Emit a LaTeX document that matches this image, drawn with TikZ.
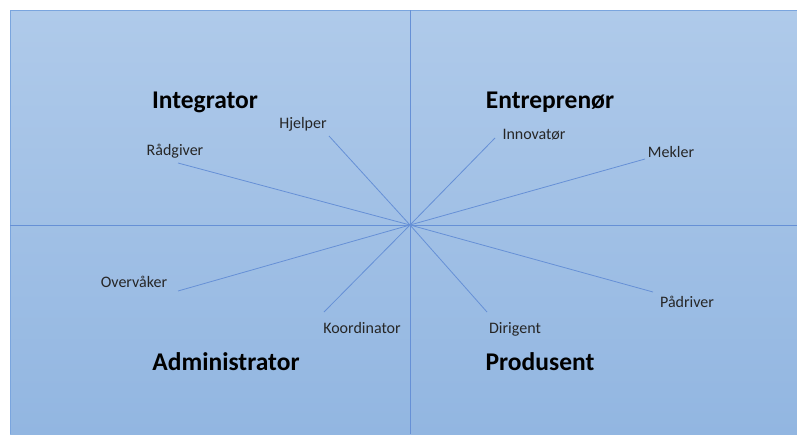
\documentclass[tikz,border=0pt]{standalone}
\usepackage{fontspec}
\setmainfont{Carlito}
\definecolor{bgtop}{HTML}{AFCAEA}
\definecolor{bgbottom}{HTML}{92B6E1}
\definecolor{axisline}{HTML}{6690D6}
\definecolor{rimline}{HTML}{7AA5DE}
\begin{document}
\begin{tikzpicture}[x=1pt,y=-1pt,
            role/.style={anchor=base, inner sep=0pt, text=black!85, font=\fontsize{16}{18}\selectfont},
            quadrant/.style={anchor=base, inner sep=0pt, text=black, font=\fontsize{25.5}{28}\selectfont\bfseries},
            axis/.style={draw=axisline, line width=1pt},
            spoke/.style={draw=axisline, line width=0.8pt}
    ]
        \useasboundingbox (0,0) rectangle (797,434);

        % Background panel
        \shade[top color=bgtop, bottom color=bgbottom] (10,10) rectangle (797,434);
        \draw[rimline, line width=1pt] (10,434) -- (10,10) -- (797,10);

        % Axes
        \coordinate (c) at (410,225);
        \coordinate (ax_top) at (410,10);
        \coordinate (ax_bot) at (410,434);
        \coordinate (ax_left) at (10,225);
        \coordinate (ax_right) at (797,225);
        \draw[axis] (ax_top) -- (ax_bot);
        \draw[axis] (ax_left) -- (ax_right);

        % Quadrants
        \node[quadrant] (integrator) at (205,108) {Integrator};
        \node[quadrant] (entreprenor) at (550,108) {Entreprenør};
        \node[quadrant] (administrator) at (226,370) {Administrator};
        \node[quadrant] (produsent) at (540,370) {Produsent};

        % Roles
        \node[role] (raadgiver) at (175,155) {Rådgiver};
        \node[role] (hjelper) at (303,128) {Hjelper};
        \node[role] (innovator) at (534,139) {Innovatør};
        \node[role] (mekler) at (671,157) {Mekler};
        \node[role] (overvaaker) at (134,287) {Overvåker};
        \node[role] (koordinator) at (362,333) {Koordinator};
        \node[role] (dirigent) at (515,333) {Dirigent};
        \node[role] (paadriver) at (687,307) {Pådriver};

        % Spoke ends
        \coordinate (raadgiver_end) at (178,163);
        \coordinate (hjelper_end) at (329,136);
        \coordinate (innovator_end) at (495,138);
        \coordinate (mekler_end) at (645,159);
        \coordinate (overvaaker_end) at (178,291);
        \coordinate (koordinator_end) at (324,312);
        \coordinate (dirigent_end) at (487,312);
        \coordinate (paadriver_end) at (653,292);

        % Spokes
        \draw[spoke] (c) -- (raadgiver_end);
        \draw[spoke] (c) -- (hjelper_end);
        \draw[spoke] (c) -- (innovator_end);
        \draw[spoke] (c) -- (mekler_end);
        \draw[spoke] (c) -- (overvaaker_end);
        \draw[spoke] (c) -- (koordinator_end);
        \draw[spoke] (c) -- (dirigent_end);
        \draw[spoke] (c) -- (paadriver_end);

    \end{tikzpicture}
\end{document}
